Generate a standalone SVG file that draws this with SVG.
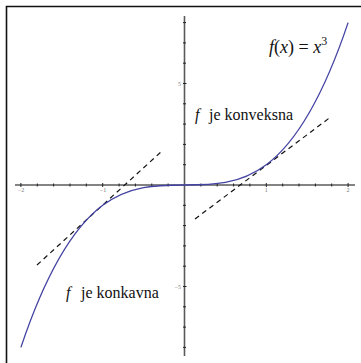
<svg xmlns="http://www.w3.org/2000/svg" width="361" height="363" viewBox="0 0 361 363">
<style>
.ax{stroke:#5a5a5a;stroke-width:1.6;fill:none}
.tk{stroke:#222;stroke-width:1;fill:none}
.tl{font-family:"Liberation Serif","Times New Roman","DejaVu Serif",serif;font-size:6px;fill:#777}
.lbl{font-family:"Liberation Serif","Times New Roman","DejaVu Serif",serif;font-size:16px;fill:#111}
.it{font-style:italic}
.tan{stroke:#111;stroke-width:1.2;stroke-dasharray:5 4;fill:none}
</style>
<rect width="361" height="363" fill="#fff"/>
<path d="M6.5 363V6.5H361" stroke="#111" stroke-width="1.6" fill="none"/>
<g id="axes">
<line class="ax" x1="15" y1="185" x2="355" y2="185"/>
<line class="ax" x1="184.5" y1="16" x2="184.5" y2="356"/>
<path class="tk" d="M20.9 183v4M37.3 183.5v3M53.6 183.5v3M70 183.5v3M86.3 183.5v3M102.7 183v4M119.1 183.5v3M135.4 183.5v3M151.8 183.5v3M168.1 183.5v3M200.9 183.5v3M217.2 183.5v3M233.6 183.5v3M249.9 183.5v3M266.3 183v4M282.7 183.5v3M299 183.5v3M315.4 183.5v3M331.7 183.5v3M348.1 183v4"/>
<path class="tk" d="M183 22.6h3M183 42.9h3M183 63.2h3M183 83.5h3.5M183 103.8h3M183 124.1h3M183 144.4h3M183 164.7h3M183 205.3h3M183 225.6h3M183 245.9h3M183 266.2h3M183 286.5h3.5M183 306.8h3M183 327.1h3M183 347.4h3"/>
<text class="tl" x="21" y="192" text-anchor="middle">−2</text>
<text class="tl" x="103" y="192" text-anchor="middle">−1</text>
<text class="tl" x="266.3" y="192" text-anchor="middle">1</text>
<text class="tl" x="348.1" y="192" text-anchor="middle">2</text>
<text class="tl" x="181" y="85.5" text-anchor="end">5</text>
<text class="tl" x="181" y="288.5" text-anchor="end">−5</text>
</g>
<g id="tangents">
<line class="tan" x1="37" y1="265" x2="162" y2="151"/>
<line class="tan" x1="195" y1="219" x2="330" y2="117.5"/>
</g>
<path id="curve" d="M20.9 347.4C130 22.6 239 347.4 348.1 22.6" stroke="#4343a3" stroke-width="1.3" fill="none"/>
<g id="labels">
<text class="lbl" x="269" y="53" style="font-size:18px"><tspan class="it">f</tspan>(<tspan class="it">x</tspan>) = <tspan class="it">x</tspan><tspan style="font-size:12px" dy="-8">3</tspan></text>
<text class="lbl" x="195" y="120"><tspan class="it">f</tspan><tspan x="209">je konveksna</tspan></text>
<text class="lbl" x="66" y="298"><tspan class="it">f</tspan><tspan x="81">je konkavna</tspan></text>
</g>
</svg>
